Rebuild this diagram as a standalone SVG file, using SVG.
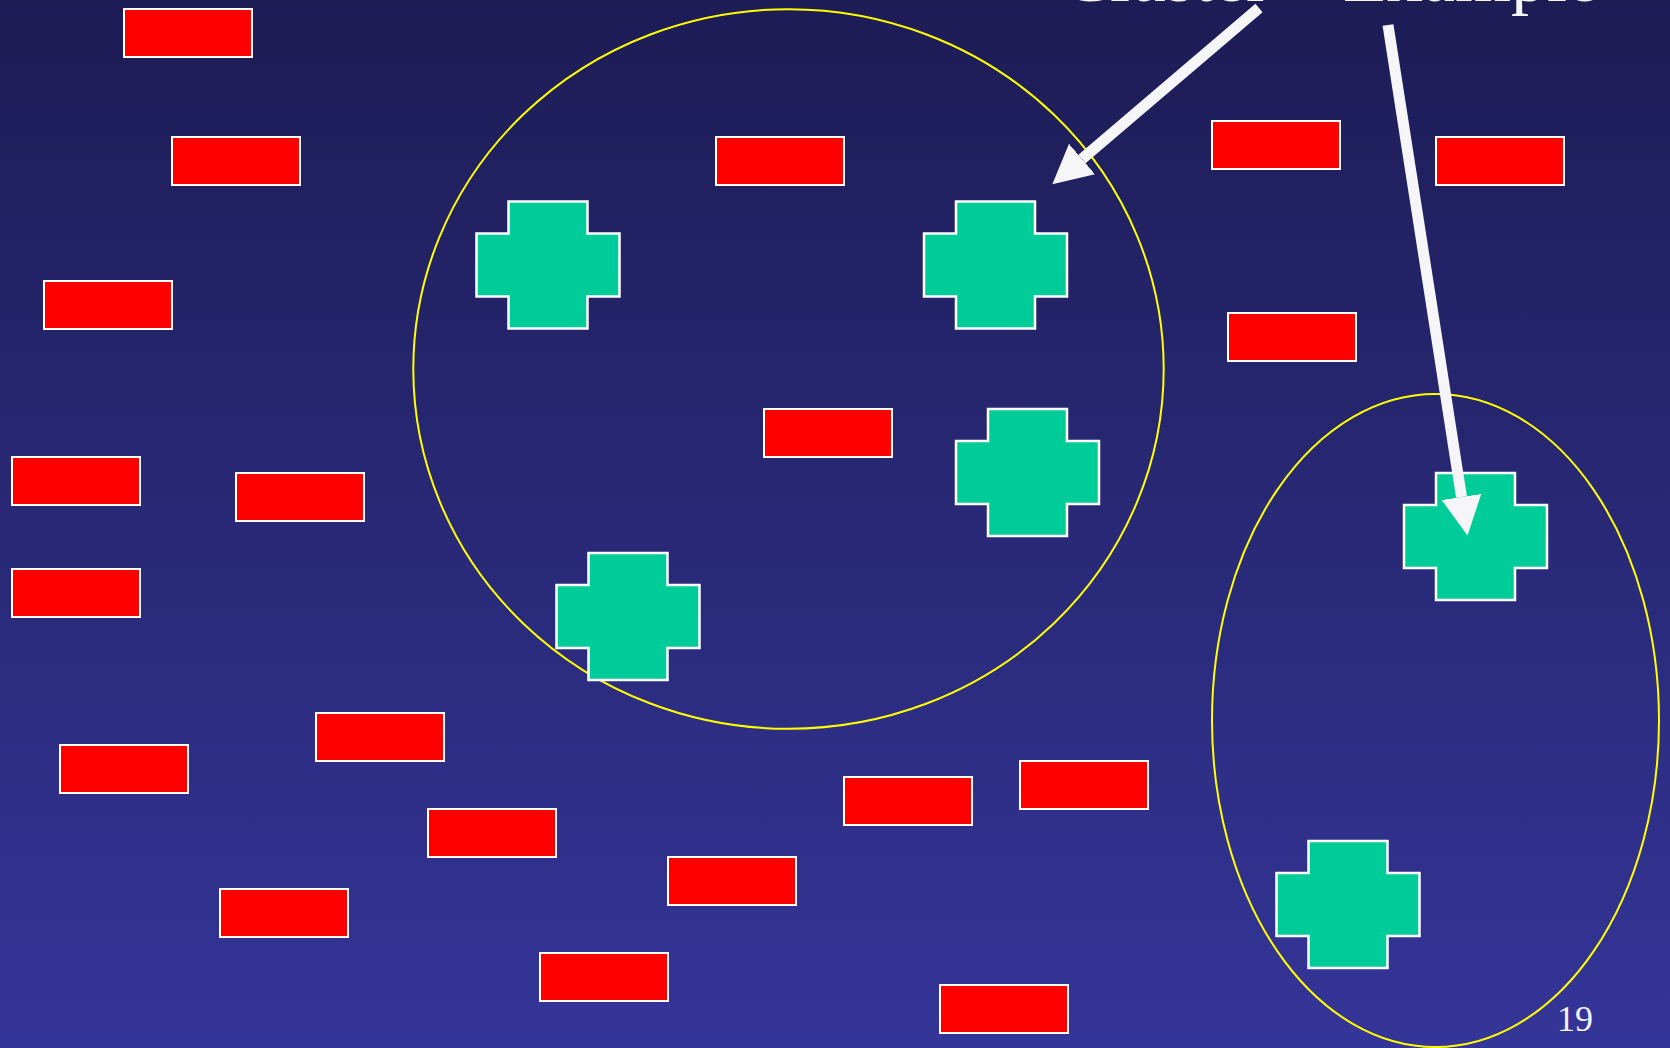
<svg xmlns="http://www.w3.org/2000/svg" width="1670" height="1048" viewBox="0 0 1670 1048">
  <defs>
    <linearGradient id="bg" x1="0" y1="0" x2="0" y2="1">
      <stop offset="0" stop-color="#1d1c55"/>
      <stop offset="1" stop-color="#343598"/>
    </linearGradient>
    <path id="cross" d="M32,0 H111 V32 H143 V95 H111 V127 H32 V95 H0 V32 H32 Z"/>
    <marker id="head" markerUnits="userSpaceOnUse" markerWidth="42" markerHeight="44" viewBox="0 -22 42 44" refX="0" refY="0" orient="auto">
      <path d="M0,-20 L39,0 L0,20 Z" fill="#f6f6f8"/>
    </marker>
  </defs>
  <style>
    .red { fill: #ff0000; stroke: #ffffff; stroke-width: 2; }
    .grn { fill: #00cc99; stroke: #ffffff; stroke-width: 2.5; }
    .ell { fill: none; stroke: #ffff00; stroke-width: 2; }
    .arrow { stroke: #f6f6f8; stroke-width: 11; fill: none; }
    .ttl { font-family: "Liberation Serif", "Times New Roman", serif; font-size: 72px; fill: #f6f6f8; }
    .num { font-family: "Liberation Serif", "Times New Roman", serif; font-size: 36px; fill: #f0f0f8; }
  </style>
  <rect x="0" y="0" width="1670" height="1048" fill="url(#bg)"/>

  <g id="title">
    <text class="ttl" x="1062" y="0.8">Cluster</text>
    <text class="ttl" x="1343" y="0.8">Example</text>
  </g>

  <g id="ellipses">
    <ellipse id="cluster-1" class="ell" cx="788.5" cy="369" rx="375.2" ry="359.8"/>
    <ellipse id="cluster-2" class="ell" cx="1435.5" cy="720.5" rx="223.5" ry="326.5"/>
  </g>

  <g id="red-nodes">
    <rect id="r1" class="red" x="124" y="9" width="128" height="48"/>
    <rect id="r2" class="red" x="172" y="137" width="128" height="48"/>
    <rect id="r3" class="red" x="44" y="281" width="128" height="48"/>
    <rect id="r4" class="red" x="716" y="137" width="128" height="48"/>
    <rect id="r5" class="red" x="1212" y="121" width="128" height="48"/>
    <rect id="r6" class="red" x="1436" y="137" width="128" height="48"/>
    <rect id="r7" class="red" x="1228" y="313" width="128" height="48"/>
    <rect id="r8" class="red" x="764" y="409" width="128" height="48"/>
    <rect id="r9" class="red" x="12" y="457" width="128" height="48"/>
    <rect id="r10" class="red" x="236" y="473" width="128" height="48"/>
    <rect id="r11" class="red" x="12" y="569" width="128" height="48"/>
    <rect id="r12" class="red" x="316" y="713" width="128" height="48"/>
    <rect id="r13" class="red" x="60" y="745" width="128" height="48"/>
    <rect id="r14" class="red" x="428" y="809" width="128" height="48"/>
    <rect id="r15" class="red" x="844" y="777" width="128" height="48"/>
    <rect id="r16" class="red" x="1020" y="761" width="128" height="48"/>
    <rect id="r17" class="red" x="668" y="857" width="128" height="48"/>
    <rect id="r18" class="red" x="220" y="889" width="128" height="48"/>
    <rect id="r19" class="red" x="540" y="953" width="128" height="48"/>
    <rect id="r20" class="red" x="940" y="985" width="128" height="48"/>
  </g>

  <g id="green-nodes">
    <use id="g1" href="#cross" class="grn" x="476.5" y="201.5"/>
    <use id="g2" href="#cross" class="grn" x="924" y="201.5"/>
    <use id="g3" href="#cross" class="grn" x="956" y="409"/>
    <use id="g4" href="#cross" class="grn" x="556.5" y="553"/>
    <use id="g5" href="#cross" class="grn" x="1404" y="473"/>
    <use id="g6" href="#cross" class="grn" x="1276.5" y="841"/>
  </g>

  <g id="connectors">
    <line class="arrow" x1="1259" y1="8" x2="1082" y2="159" marker-end="url(#head)"/>
    <line class="arrow" x1="1388" y1="25" x2="1461.5" y2="497" marker-end="url(#head)"/>
  </g>

  <text class="num" x="1557" y="1031">19</text>
</svg>
